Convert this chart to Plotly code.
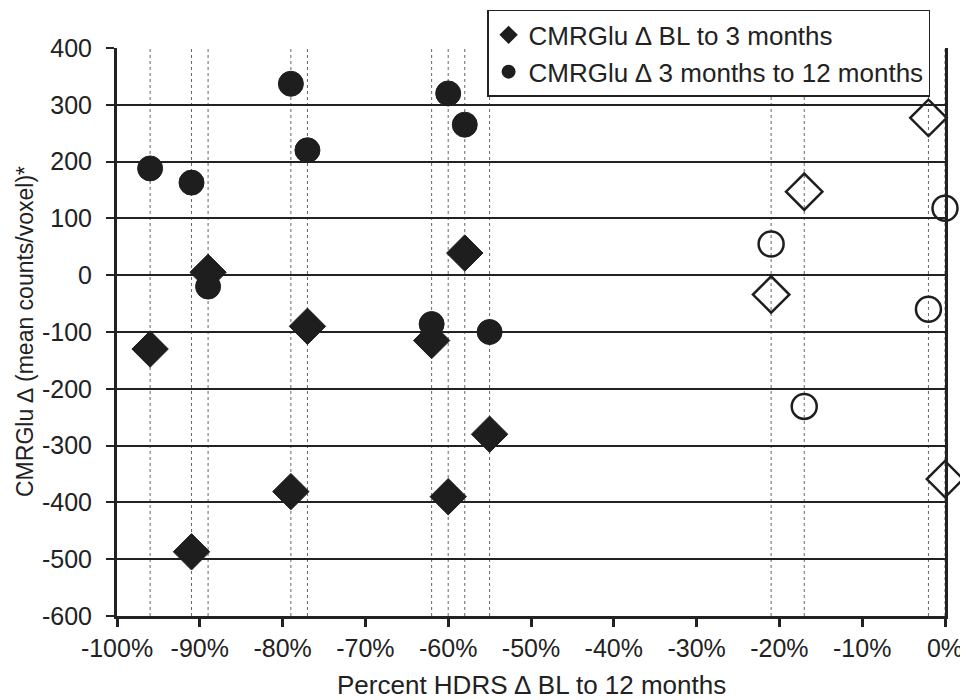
import plotly.graph_objects as go

# Percent HDRS change BL to 12 months for each subject
x_pct = [-96, -91, -89, -79, -77, -62, -60, -58, -55, -21, -17, -2, 0]
# CMRGlu change BL -> 3 months (diamonds)
bl_to_3 = [-130, -487, 5, -381, -90, -115, -390, 39, -280, -34, 147, 277, -359]
# CMRGlu change 3 -> 12 months (circles)
m3_to_12 = [188, 163, -20, 337, 220, -86, 320, 265, -100, 55, -231, -60, 118]
# responders are filled, non-responders open
responder = [True] * 9 + [False] * 4

x_ticks = list(range(-100, 1, 10))
y_ticks = list(range(-600, 401, 100))

ink = "#1e1e1e"

def pick(vals, flag):
    return [v for v, r in zip(vals, responder) if r == flag]

fig = go.Figure()

# vertical dotted reference lines at each subject's x
for xv in x_pct:
    fig.add_shape(type="line", xref="x", yref="y", x0=xv, x1=xv, y0=-600, y1=400,
                  line=dict(color="#666666", width=1, dash="dot"), layer="below")

fig.add_trace(go.Scatter(
    x=pick(x_pct, True), y=pick(bl_to_3, True), mode="markers",
    name="CMRGlu ∆ BL to 3 months", cliponaxis=False,
    marker=dict(symbol="diamond", size=28, color=ink, line=dict(color=ink, width=1))))
fig.add_trace(go.Scatter(
    x=pick(x_pct, True), y=pick(m3_to_12, True), mode="markers",
    name="CMRGlu ∆ 3 months to 12 months", cliponaxis=False,
    marker=dict(symbol="circle", size=25, color=ink, line=dict(color=ink, width=1))))
fig.add_trace(go.Scatter(
    x=pick(x_pct, False), y=pick(bl_to_3, False), mode="markers", showlegend=False,
    cliponaxis=False,
    marker=dict(symbol="diamond-open", size=28, color=ink, line=dict(color=ink, width=2.5))))
fig.add_trace(go.Scatter(
    x=pick(x_pct, False), y=pick(m3_to_12, False), mode="markers", showlegend=False,
    cliponaxis=False,
    marker=dict(symbol="circle-open", size=25, color=ink, line=dict(color=ink, width=2.5))))

# the page body has an 8px margin, so the figure is 960x692 to fit the window
fig.update_layout(
    width=960, height=692,
    margin=dict(l=109, r=23, t=40, b=84, autoexpand=False),
    paper_bgcolor="white", plot_bgcolor="white",
    font=dict(family="Liberation Sans, Arial, sans-serif", color="#222222", size=25),
    showlegend=True,
    legend=dict(x=0.982, xanchor="right", y=1.067, yanchor="top",
                bgcolor="white", bordercolor="#222222", borderwidth=1.5,
                font=dict(size=26), itemsizing="constant", tracegroupgap=0,
                itemwidth=30),
    xaxis=dict(range=[-100, 0], tickmode="array", tickvals=x_ticks,
               ticktext=[f"{t}%" for t in x_ticks],
               showgrid=False, zeroline=False, automargin=False,
               showline=True, linecolor="#222222", linewidth=3, mirror=False,
               ticks="outside", ticklen=8, tickwidth=3, tickcolor="#222222",
               tickfont=dict(size=25)),
    yaxis=dict(range=[-600, 400], tickmode="array", tickvals=y_ticks,
               ticktext=[str(t) for t in y_ticks],
               showgrid=True, gridcolor="#222222", gridwidth=2, zeroline=False,
               automargin=False,
               showline=True, linecolor="#222222", linewidth=3, mirror=True,
               ticks="outside", ticklen=8, tickwidth=2, tickcolor="#222222",
               ticklabelstandoff=9,
               tickfont=dict(size=25)),
    annotations=[
        dict(text="Percent HDRS ∆ BL to 12 months", xref="paper", yref="paper",
             x=0.5, y=0, yshift=-69, xanchor="center", yanchor="middle",
             showarrow=False, font=dict(size=26)),
        dict(text="CMRGlu ∆ (mean counts/voxel)*", xref="paper", yref="paper",
             x=0, y=0.5, xshift=-92, xanchor="center", yanchor="middle",
             textangle=-90, showarrow=False, font=dict(size=23)),
    ],
)

fig.write_html("out.html")
